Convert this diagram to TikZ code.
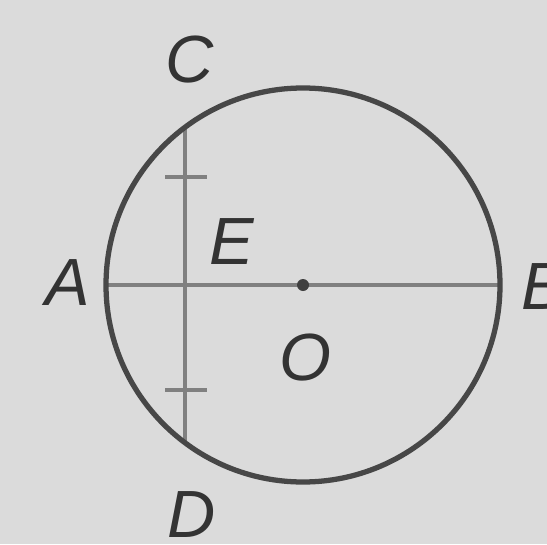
\documentclass[tikz,border=0pt]{standalone}
\usepackage{fontspec}
\setmainfont{Liberation Sans}
\begin{document}
\begin{tikzpicture}[x=0.02cm,y=-0.02cm,
  lbl/.style={font=\fontsize{38}{40}\selectfont\itshape, text=black!80, inner sep=0pt},
  thin line/.style={draw=black!50, line width=2.2pt},
  circ/.style={draw=black!72, line width=3pt}]
\fill[black!14] (0,0) rectangle (547,544);
\useasboundingbox (0,0) rectangle (547,544);
\coordinate (O) at (303,285);
\coordinate (A) at (106,285);
\coordinate (B) at (500,285);
\coordinate (C) at (185,127);
\coordinate (D) at (185,443);
\coordinate (E) at (185,285);
\coordinate (t1a) at (165,177);
\coordinate (t1b) at (207,177);
\coordinate (t2a) at (165,390);
\coordinate (t2b) at (207,390);
\draw[thin line] (A) -- (B);
\draw[thin line] (C) -- (D);
\draw[thin line, line width=1.8pt] (t1a) -- (t1b);
\draw[thin line, line width=1.8pt] (t2a) -- (t2b);
\draw[circ] (O) circle (197);
\fill[black!75] (O) circle (6);
\node[lbl] (lC) at (190,60) {C};
\node[lbl] (lE) at (232,242) {E};
\node[lbl] (lA) at (68,283) {A};
\node[lbl] (lO) at (305,358) {O};
\node[lbl] (lD) at (192,515) {D};
\node[lbl] (lB) at (544,287) {B};
\end{tikzpicture}
\end{document}
